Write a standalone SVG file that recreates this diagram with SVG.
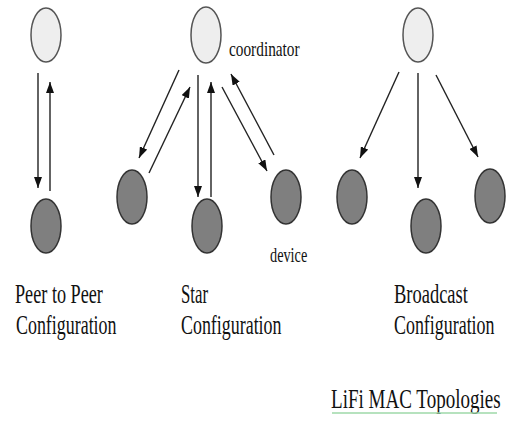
<svg xmlns="http://www.w3.org/2000/svg" width="508" height="423" viewBox="0 0 508 423">
<style>
.top{fill:#eeeeee;stroke:#555;stroke-width:1.5}
.dev{fill:#7f7f7f;stroke:#333;stroke-width:1.5}
.ln{stroke:#222;stroke-width:1.4;fill:none;marker-end:url(#ah)}
.t{font-family:"Liberation Serif","Times New Roman",serif;fill:#111}
.big{font-size:28px}
.sm{font-size:21px}
</style>
<defs>
<marker id="ah" markerUnits="userSpaceOnUse" markerWidth="11" markerHeight="8" refX="11" refY="4" orient="auto">
<path d="M0,0 L11,4 L0,8 z" fill="#111"/>
</marker>
</defs>
<rect width="508" height="423" fill="#fff"/>
<g id="connectors">
<line class="ln" x1="38" y1="73" x2="38" y2="188"/>
<line class="ln" x1="50" y1="191" x2="50" y2="82"/>
<line class="ln" x1="179" y1="70" x2="139" y2="158"/>
<line class="ln" x1="149" y1="173" x2="190" y2="87"/>
<line class="ln" x1="198" y1="75" x2="198" y2="197"/>
<line class="ln" x1="211" y1="197" x2="211" y2="82"/>
<line class="ln" x1="222" y1="87" x2="267" y2="171"/>
<line class="ln" x1="274" y1="155" x2="231" y2="74"/>
<line class="ln" x1="399" y1="72" x2="360" y2="158"/>
<line class="ln" x1="418" y1="73" x2="418" y2="188"/>
<line class="ln" x1="436" y1="75" x2="478" y2="157"/>
</g>
<g id="peer-top"><ellipse class="top" cx="46" cy="35" rx="15" ry="27"/></g>
<g id="peer-bottom"><ellipse class="dev" cx="46" cy="226" rx="15" ry="27"/></g>
<g id="star-coordinator"><ellipse class="top" cx="206" cy="35" rx="15" ry="28"/></g>
<g id="star-left"><ellipse class="dev" cx="132" cy="197" rx="15" ry="27"/></g>
<g id="star-middle"><ellipse class="dev" cx="207" cy="226" rx="15" ry="27"/></g>
<g id="star-right"><ellipse class="dev" cx="286" cy="197" rx="15" ry="27"/></g>
<g id="bc-top"><ellipse class="top" cx="418" cy="35" rx="15" ry="27"/></g>
<g id="bc-left"><ellipse class="dev" cx="352" cy="197" rx="15" ry="27"/></g>
<g id="bc-middle"><ellipse class="dev" cx="426" cy="226" rx="15" ry="27"/></g>
<g id="bc-right"><ellipse class="dev" cx="490" cy="196" rx="15" ry="27"/></g>
<g id="labels">
<text class="t sm" transform="matrix(0.73,0,0,1,229,56)">coordinator</text>
<text class="t sm" transform="matrix(0.68,0,0,1,270,262)">device</text>
<text class="t big" transform="matrix(0.65,0,0,1,15,303)">Peer to Peer</text>
<text class="t big" transform="matrix(0.64,0,0,1,16,334)">Configuration</text>
<text class="t big" transform="matrix(0.6,0,0,1,181,303)">Star</text>
<text class="t big" transform="matrix(0.64,0,0,1,181,334)">Configuration</text>
<text class="t big" transform="matrix(0.66,0,0,1,394,303)">Broadcast</text>
<text class="t big" transform="matrix(0.64,0,0,1,394,334)">Configuration</text>
<text class="t big" transform="matrix(0.68,0,0,1,331,408)">LiFi MAC Topologies</text>
<line x1="332" y1="413" x2="497" y2="413" stroke="#9ed9a8" stroke-width="1.5"/>
</g>
</svg>
